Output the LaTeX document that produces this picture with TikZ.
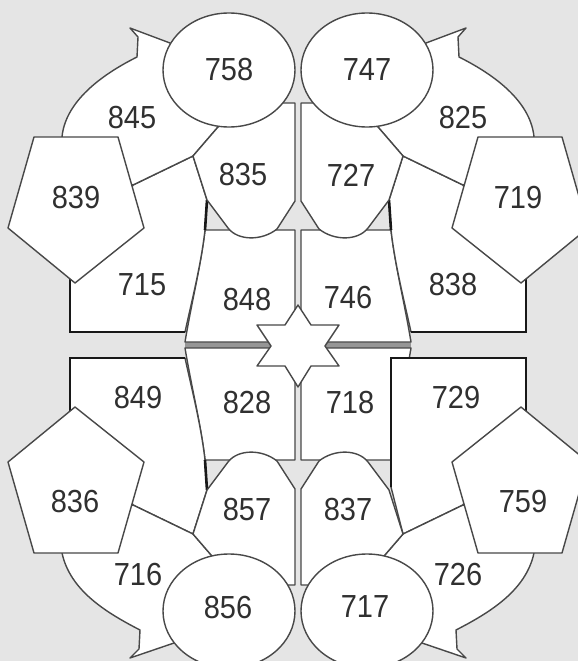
\documentclass[tikz,border=0pt]{standalone}
\usepackage{fontspec}
\setmainfont{Liberation Sans}
\usepackage{graphicx}
\definecolor{bg}{RGB}{229,229,229}
\definecolor{edge}{RGB}{72,72,72}
\definecolor{ink}{RGB}{24,24,24}
\definecolor{txt}{RGB}{48,48,48}
\definecolor{band}{RGB}{150,150,150}
\tikzset{
  region/.style={fill=white, draw=edge, line width=1.4pt, line join=round},
  blackedge/.style={draw=ink, line width=2.6pt},
  lbl/.style={text=txt, font=\fontsize{29}{29}\selectfont, inner sep=0pt},
}
\newcommand\QuadTop{%
  \path[region] (205,230) -- (295,230) -- (295,342) -- (185,342) .. controls (192,300) and (201,265) .. cycle;
  \path[region] (133,185) -- (193,156) -- (207,200) -- (205,230) .. controls (201,265) and (192,300) .. (185,332) -- (70,332) -- (70,279) -- (100,250) -- cycle;
  \draw[blackedge] (185,332) -- (70,332) -- (70,279);
  \draw[blackedge] (207,200) -- (205,230);
  \path[region] (170,43) -- (130,28) -- (138,37) -- (137,57) .. controls (95,78) and (65,105) .. (62,137) -- (80,170) -- (133,185) -- (193,156) -- (218,127) -- (200,80) -- cycle;
  \path[region] (218,127) -- (193,156) -- (207,200) -- (228,228) .. controls (238,241) and (262,241) .. (277,229) -- (295,201) -- (295,103) -- (275,103) -- (240,110) -- cycle;
  \path[region] (34,137) -- (118,137) -- (144,228) -- (75,283) -- (8,228) -- cycle;
  \path[region] (229,70) ellipse [x radius=66, y radius=57];
}
\newcommand\QuadBotA{%
  \path[region] (205,460) -- (295,460) -- (295,348) -- (185,348) .. controls (192,390) and (201,425) .. cycle;
}
\newcommand\QuadBotLeft{%
  \path[region] (133,505) -- (193,534) -- (207,490) -- (205,460) .. controls (201,425) and (192,390) .. (185,358) -- (70,358) -- (70,411) -- (100,440) -- cycle;
  \draw[blackedge] (185,358) -- (70,358) -- (70,411);
  \draw[blackedge] (207,490) -- (205,460);
}
\newcommand\QuadBotRight{%
  \path[region] (133,505) -- (193,534) -- (205,487) -- (205,358) -- (70,358) -- (70,411) -- (100,440) -- cycle;
  \draw[blackedge] (205,487) -- (205,358) -- (70,358) -- (70,411);
}
\newcommand\QuadBotB{%
  \path[region] (133,505) -- (193,534) -- (218,563) -- (200,600) -- (174,643) -- (130,658) -- (139,649) -- (140,630) .. controls (105,612) and (70,590) .. (62,553) -- (80,520) -- cycle;
  \path[region] (218,563) -- (193,534) -- (207,490) -- (228,462) .. controls (238,449) and (262,449) .. (277,461) -- (295,489) -- (295,585) -- (280,585) -- (240,590) -- cycle;
  \path[region] (34,553) -- (118,553) -- (144,462) -- (75,407) -- (8,462) -- cycle;
  \path[region] (229,611) ellipse [x radius=66, y radius=57];
}
\newcommand\Lbl[3]{\node[lbl] (l#1) at (#2,#3) {\scalebox{1}[1.1]{#1}};}
\begin{document}
\begin{tikzpicture}[x=1pt,y=-1pt]
  \useasboundingbox (0,0) rectangle (578,661);
  \fill[bg] (0,0) rectangle (578,661);
  \clip (0,0) rectangle (578,661);
  \fill[band] (185,342) rectangle (411,348);
  \QuadTop
  \begin{scope}[xshift=596, xscale=-1]
    \QuadTop
  \end{scope}
  \QuadBotA
  \QuadBotLeft
  \QuadBotB
  \begin{scope}[xshift=596, xscale=-1]
    \QuadBotA
    \QuadBotRight
    \QuadBotB
  \end{scope}
  \path[region] (298,305) -- (311,325) -- (339,325) -- (325,346) -- (339,366) -- (311,366) -- (298,387) -- (285,366) -- (257,366) -- (271,346) -- (257,325) -- (285,325) -- cycle;
  \Lbl{758}{229}{70}
  \Lbl{747}{367}{70}
  \Lbl{845}{132}{118}
  \Lbl{825}{463}{118}
  \Lbl{839}{76}{198}
  \Lbl{719}{518}{198}
  \Lbl{835}{243}{175}
  \Lbl{727}{351}{175}
  \Lbl{715}{142}{285}
  \Lbl{838}{453}{285}
  \Lbl{848}{247}{300}
  \Lbl{746}{348}{298}
  \Lbl{849}{138}{398}
  \Lbl{828}{247}{403}
  \Lbl{718}{350}{403}
  \Lbl{729}{456}{398}
  \Lbl{836}{75}{502}
  \Lbl{759}{523}{502}
  \Lbl{857}{247}{510}
  \Lbl{837}{348}{510}
  \Lbl{716}{138}{575}
  \Lbl{726}{458}{575}
  \Lbl{856}{228}{608}
  \Lbl{717}{365}{607}
\end{tikzpicture}
\end{document}
